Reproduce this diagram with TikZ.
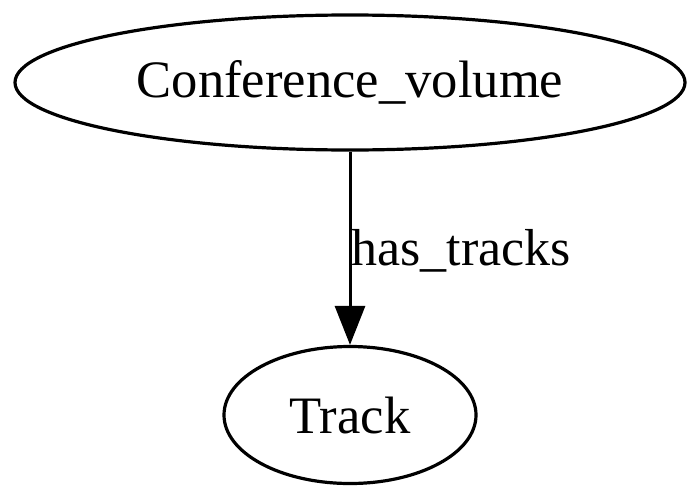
\documentclass[tikz,border=0pt]{standalone}
\usepackage{fontspec}
\setmainfont{Liberation Serif}
\usetikzlibrary{shapes.geometric,arrows.meta}
\begin{document}
\begin{tikzpicture}[x=0.5pt,y=-0.5pt,
		entity/.style={draw, ellipse, line width=1.6pt, inner sep=0pt, font=\fontsize{26.3}{30}\selectfont},
		rel/.style={line width=1.5pt, -{Triangle[length=19.5pt,width=15pt]}},
		lbl/.style={anchor=base west, inner sep=0pt, font=\fontsize{26}{30}\selectfont}]
			\useasboundingbox (0,0) rectangle (700,498);
			\node[entity, minimum width=335pt, minimum height=67.5pt] (volume) at (350,82.5) {Conference\_volume};
			\node[entity, minimum width=126pt, minimum height=68.5pt] (track) at (350,415) {Track};
			\draw[rel] (volume) -- (track);
			\node[lbl] (hastracks) at (351,265) {has\_tracks};
	\end{tikzpicture}
\end{document}
